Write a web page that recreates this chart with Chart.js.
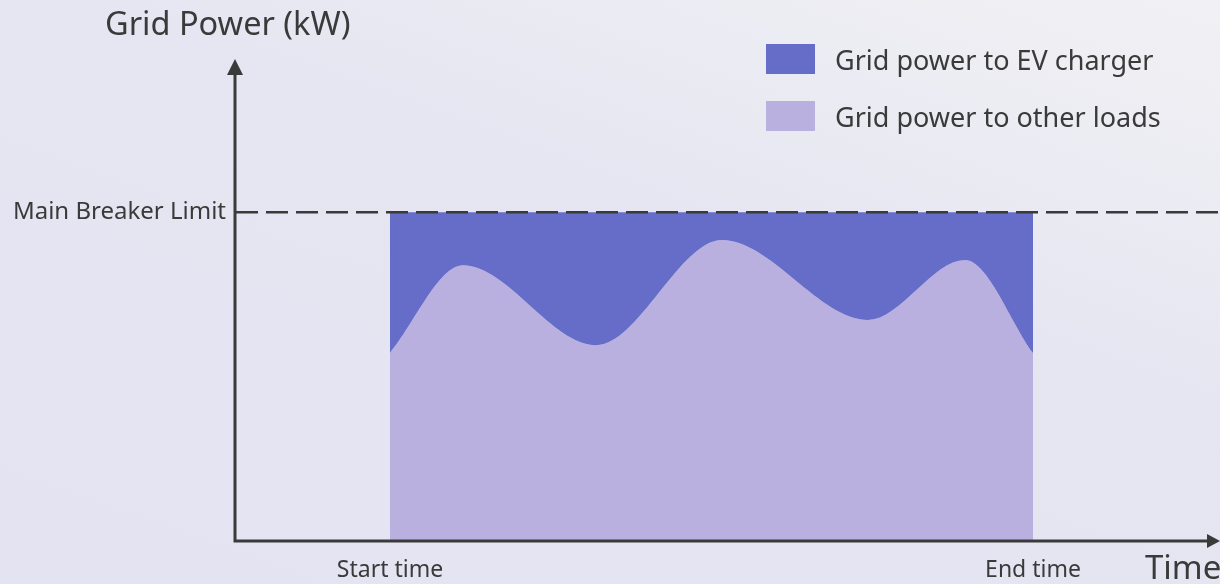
<!DOCTYPE html>
<html>
<head>
<meta charset="utf-8">
<script src="https://cdn.jsdelivr.net/npm/chart.js@4/dist/chart.umd.min.js"></script>
<style>
  html, body { margin: 0; padding: 0; }
  body {
    width: 1220px; height: 584px; overflow: hidden; position: relative;
    background: linear-gradient(200deg, #f1f1f4 0%, #e6e6f2 40%, #e3e3f2 100%);
    font-family: "Noto Sans", "Open Sans", sans-serif;
    color: #3a3a3a;
  }
  #wrap { position: absolute; left: 0; top: 0; width: 1220px; height: 584px; }
  .titulo { position: absolute; font-size: 32.5px; line-height: 1; white-space: nowrap; }
  #legenda { position: absolute; left: 766px; top: 44px; }
  .item { display: flex; align-items: center; height: 30px; margin-bottom: 27px; font-size: 27px; white-space: nowrap; }
  .caixa { width: 49px; height: 30px; margin-right: 20px; flex: none; }
</style>
</head>
<body>
<div id="wrap"><canvas id="grafico"></canvas></div>
<div class="titulo" id="titulo-y" style="left:105px; top:7px;">Grid Power (kW)</div>
<div class="titulo" id="titulo-x" style="left:1145px; top:550px; font-size:33px;">Time</div>
<div id="legenda"></div>
<script>
// eixo do tempo (unidades arbitrárias) e potência
const X_MIN = 0, X_MAX = 100;
const Y_MIN = 0, Y_MAX = 100;
const LIMITE = 70.5;

const tempos = [15.65, 23.07, 36.59, 49.39, 64.23, 74.09, 81.0];
const outrasCargas = [40.2, 59.1, 41.9, 64.5, 47.3, 60.2, 40.2];

const xTicks = [15.65, 81.0];
const xTickLabels = ['Start time', 'End time'];
const yTicks = [LIMITE];
const yTickLabels = ['Main Breaker Limit'];

const CORES = { ev: '#656dc8', outras: '#b9b0e0', eixo: '#3a3a3a' };
const LABELS = ['Grid power to EV charger', 'Grid power to other loads'];

// desenha as linhas dos eixos com as setas
const setas = {
  id: 'setas',
  afterDraw(chart) {
    const { ctx, chartArea: a } = chart;
    ctx.save();
    ctx.strokeStyle = CORES.eixo;
    ctx.fillStyle = CORES.eixo;
    ctx.lineWidth = 3;
    ctx.beginPath();
    ctx.moveTo(a.left - 1, a.top);
    ctx.lineTo(a.left - 1, a.bottom + 1);
    ctx.lineTo(a.right - 12, a.bottom + 1);
    ctx.stroke();
    // seta vertical
    ctx.beginPath();
    ctx.moveTo(a.left - 1, a.top - 16);
    ctx.lineTo(a.left - 9, a.top);
    ctx.lineTo(a.left + 7, a.top);
    ctx.closePath();
    ctx.fill();
    // seta horizontal
    ctx.beginPath();
    ctx.moveTo(a.right, a.bottom + 1);
    ctx.lineTo(a.right - 13, a.bottom - 6);
    ctx.lineTo(a.right - 13, a.bottom + 8);
    ctx.closePath();
    ctx.fill();
    ctx.restore();
  }
};

const ctx = document.getElementById('grafico').getContext('2d');
new Chart(ctx, {
  type: 'line',
  data: {
    datasets: [
      {
        label: LABELS[1],
        data: tempos.map((t, i) => ({ x: t, y: outrasCargas[i] })),
        backgroundColor: CORES.outras,
        borderWidth: 0,
        pointRadius: 0,
        fill: 'origin',
        cubicInterpolationMode: 'monotone',
        order: 2
      },
      {
        label: LABELS[0],
        data: tempos.map(t => ({ x: t, y: LIMITE })),
        backgroundColor: CORES.ev,
        borderWidth: 0,
        pointRadius: 0,
        fill: '-1',
        order: 1
      },
      {
        label: 'limite',
        data: [{ x: X_MIN, y: LIMITE }, { x: X_MAX, y: LIMITE }],
        borderColor: CORES.eixo,
        borderWidth: 2.5,
        borderDash: [22, 8],
        pointRadius: 0,
        fill: false,
        order: 0
      }
    ]
  },
  options: {
    responsive: true,
    maintainAspectRatio: false,
    animation: false,
    layout: { padding: { top: 75, right: 0, left: 0, bottom: 0 } },
    plugins: { legend: { display: false }, tooltip: { enabled: false } },
    scales: {
      x: {
        type: 'linear', min: X_MIN, max: X_MAX,
        grid: { display: false, drawTicks: false },
        border: { display: false },
        afterBuildTicks: s => { s.ticks = xTicks.map(v => ({ value: v })); },
        afterFit: s => { s.height = 44; },
        ticks: {
          padding: 17, color: CORES.eixo, maxRotation: 0, autoSkip: false,
          font: { family: 'Noto Sans', size: 23 },
          callback: (v, i) => xTickLabels[i]
        }
      },
      y: {
        min: Y_MIN, max: Y_MAX,
        grid: { display: false, drawTicks: false },
        border: { display: false },
        afterBuildTicks: s => { s.ticks = yTicks.map(v => ({ value: v })); },
        afterFit: s => { s.width = 236; },
        ticks: {
          padding: 10, color: CORES.eixo, autoSkip: false,
          font: { family: 'Noto Sans', size: 24 },
          callback: (v, i) => yTickLabels[i]
        }
      }
    }
  },
  plugins: [setas]
});

// legenda em html
const legenda = document.getElementById('legenda');
[[LABELS[0], CORES.ev], [LABELS[1], CORES.outras]].forEach(([txt, cor]) => {
  const it = document.createElement('div');
  it.className = 'item';
  it.innerHTML = `<div class="caixa" style="background:${cor}"></div><span>${txt}</span>`;
  legenda.appendChild(it);
});
</script>
</body>
</html>
